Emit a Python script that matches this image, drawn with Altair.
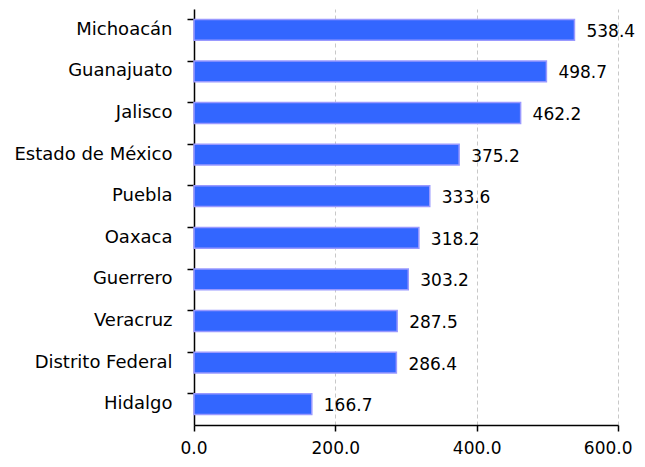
import altair as alt
import pandas as pd

states = ["Michoacán", "Guanajuato", "Jalisco", "Estado de México", "Puebla",
          "Oaxaca", "Guerrero", "Veracruz", "Distrito Federal", "Hidalgo"]
values = [538.4, 498.7, 462.2, 375.2, 333.6, 318.2, 303.2, 287.5, 286.4, 166.7]

df = pd.DataFrame({"state": states, "value": values})
df["label"] = df["value"].map(lambda v: f"{v:.1f}")

FONT = "DejaVu Sans"

y = alt.Y("state:N", sort=states, title=None,
          scale=alt.Scale(paddingInner=0.5, paddingOuter=0.25),
          axis=alt.Axis(labelFont=FONT, labelFontSize=18, labelColor="#000",
                        labelPadding=15, tickSize=7, tickColor="#000",
                        domainColor="#000", domainWidth=1.5, tickWidth=1.5,
                        bandPosition=0, grid=False, labelLimit=300))

bars = alt.Chart(df).mark_bar(color="#3366ff", stroke="#9999ff", strokeWidth=1.5).encode(
    x=alt.X("value:Q", title=None,
            scale=alt.Scale(domain=[0, 600], nice=False),
            axis=alt.Axis(values=[0, 200, 400, 600], format=".1f",
                          labelFont=FONT, labelFontSize=17, labelColor="#000",
                          labelPadding=9, tickSize=6, tickColor="#000",
                          labelFlush=True, labelFlushOffset=14, labelOverlap=False,
                          domainColor="#000", domainWidth=1.5, tickWidth=1.5,
                          grid=True, gridDash=[4, 3], gridColor="#c8c8c8",
                          gridWidth=1)),
    y=y,
)

text = alt.Chart(df).mark_text(align="left", baseline="middle", dx=12, dy=2,
                               font=FONT, fontSize=17, color="#000").encode(
    x="value:Q",
    y=alt.Y("state:N", sort=states),
    text="label:N",
)

chart = (bars + text).properties(
    width=424, height=416,
    autosize=alt.AutoSizeParams(type="none"),
    padding={"left": 186, "top": 1, "right": 19, "bottom": 34},
).configure_view(stroke=None).configure_axisX(gridOpacity=1)

chart.save("out.html", embed_options={"renderer": "svg", "actions": False})
